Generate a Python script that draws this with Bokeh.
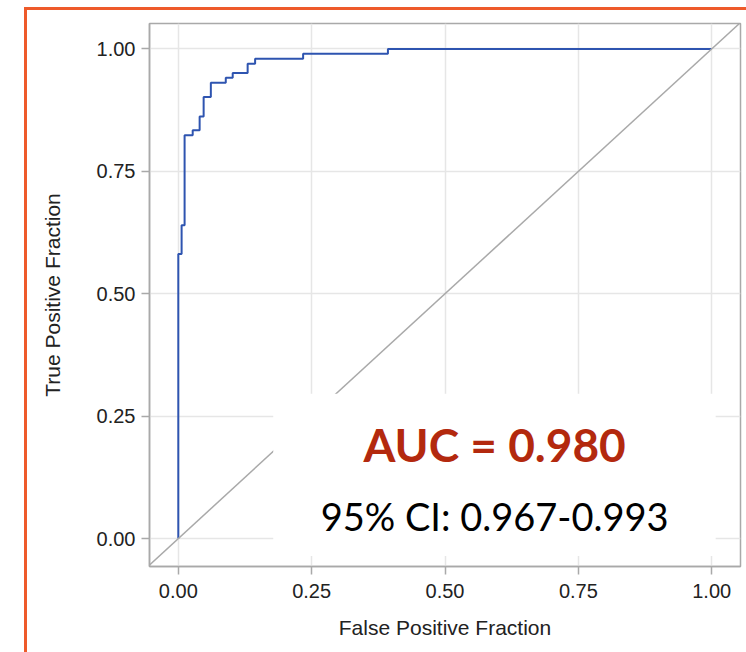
from bokeh.plotting import figure
from bokeh.models import (Range1d, FixedTicker, PrintfTickFormatter, BoxAnnotation,
                          Label, Slope, InlineStyleSheet)
from bokeh.embed import file_html
from bokeh.resources import INLINE

# ROC curve points
fpr = [0.0, 0.0, 0.0062, 0.0118, 0.027, 0.040, 0.0475, 0.061, 0.089, 0.102,
       0.130, 0.144, 0.234, 0.393, 1.0]
tpr = [0.0, 0.581, 0.640, 0.824, 0.834, 0.862, 0.902, 0.931, 0.941, 0.951,
       0.970, 0.980, 0.990, 1.0, 1.0]
ticks = [0.0, 0.25, 0.50, 0.75, 1.0]
auc_text = "AUC = 0.980"
ci_text = "95% CI: 0.967-0.993"

GRAY = "#A9A9A9"
frame_css = InlineStyleSheet(css="""
:host { position: relative; }
:host::after {
  content: '';
  position: absolute;
  left: 24px;
  top: 7px;
  width: 719px;
  height: 642px;
  border-left: 3px solid #EE5A2A;
  border-top: 3px solid #EE5A2A;
  pointer-events: none;
}
""")

p = figure(width=746, height=652, output_backend="svg", toolbar_location=None,
           x_range=Range1d(-0.054, 1.054), y_range=Range1d(-0.057, 1.052),
           min_border_left=149, min_border_right=6, min_border_top=23,
           min_border_bottom=86, stylesheets=[frame_css])
p.background_fill_color = "white"
p.border_fill_color = "white"
p.outline_line_color = GRAY
p.outline_line_width = 1.5

for ax in (p.xaxis[0], p.yaxis[0]):
    ax.ticker = FixedTicker(ticks=ticks)
    ax.formatter = PrintfTickFormatter(format="%.2f")
    ax.axis_line_color = GRAY
    ax.axis_line_width = 1.5
    ax.major_tick_line_color = GRAY
    ax.major_tick_line_width = 1.5
    ax.major_tick_out = 8
    ax.major_tick_in = 0
    ax.minor_tick_line_color = None
    ax.major_label_text_font = "Liberation Sans"
    ax.major_label_text_font_size = "20px"
    ax.major_label_text_color = "#222222"
    ax.axis_label_text_font = "Liberation Sans"
    ax.axis_label_text_font_size = "21px"
    ax.axis_label_text_font_style = "normal"
    ax.axis_label_text_color = "#222222"

p.xaxis.axis_label = "False Positive Fraction"
p.yaxis.axis_label = "True Positive Fraction"
p.xaxis.major_label_standoff = 9
p.xaxis.axis_label_standoff = 15
p.yaxis.major_label_standoff = 6
p.yaxis.axis_label_standoff = 30

p.grid.ticker = FixedTicker(ticks=ticks)
p.grid.grid_line_color = "#E6E6E6"
p.grid.grid_line_width = 1.5

p.step(fpr, tpr, mode="after", line_color="#2E54B0", line_width=2)

p.add_layout(Slope(gradient=1, y_intercept=0, line_color=GRAY, line_width=1.5))

p.add_layout(BoxAnnotation(left=0.178, right=1.0075, bottom=-0.0353, top=0.2957,
                           fill_color="white", fill_alpha=1.0, line_color=None))

p.add_layout(Label(x=0.593, y=0.192, text=auc_text, text_align="center",
                   text_baseline="alphabetic", text_font="Lato",
                   text_font_style="bold", text_font_size="46px",
                   text_color="#B3290E"))
p.add_layout(Label(x=0.593, y=0.046, text=ci_text, text_align="center",
                   text_baseline="alphabetic", text_font="Lato",
                   text_font_size="38px", text_color="black"))

open("out.html", "w").write(file_html(p, INLINE))
